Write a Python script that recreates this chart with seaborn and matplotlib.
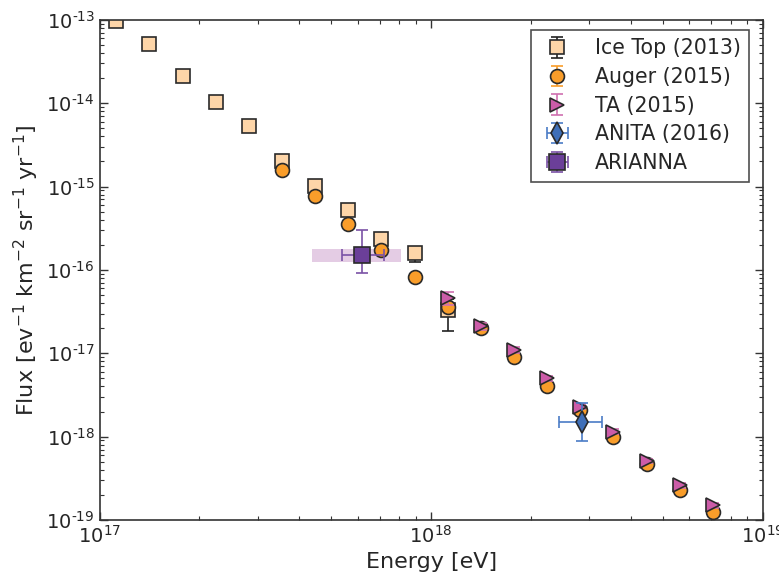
import numpy as np
import matplotlib
matplotlib.use("Agg")
import matplotlib.pyplot as plt
from matplotlib.ticker import FuncFormatter
import seaborn as sns

# log10(E / eV) bin centres
icetop_logE = [17.05, 17.15, 17.25, 17.35, 17.45, 17.55, 17.65, 17.75, 17.85, 17.95, 18.05]
icetop_flux = [9.6e-14, 5.1e-14, 2.1e-14, 1.04e-14, 5.4e-15, 2.0e-15, 1.02e-15, 5.3e-16, 2.35e-16, 1.6e-16, 3.3e-17]
icetop_lo = [0, 0, 0, 0, 0, 0, 0, 0, 0, 3.4e-17, 1.44e-17]
icetop_hi = [0, 0, 0, 0, 0, 0, 0, 0, 0, 1.5e-17, 1.2e-17]

auger_logE = [17.55, 17.65, 17.75, 17.85, 17.95, 18.05, 18.15, 18.25, 18.35, 18.45, 18.55, 18.65, 18.75, 18.85]
auger_flux = [1.58e-15, 7.7e-16, 3.6e-16, 1.74e-16, 8.3e-17, 3.6e-17, 2.0e-17, 9.1e-18, 4.1e-18, 2.1e-18, 1.0e-18, 4.7e-19, 2.3e-19, 1.25e-19]

ta_logE = [18.05, 18.15, 18.25, 18.35, 18.45, 18.55, 18.65, 18.75, 18.85]
ta_flux = [4.6e-17, 2.1e-17, 1.1e-17, 5.0e-18, 2.3e-18, 1.15e-18, 5.1e-19, 2.6e-19, 1.5e-19]
ta_err = [8e-18, 2e-18, 8e-19, 3e-19, 1.5e-19, 7e-20, 3e-20, 2e-20, 1e-20]

anita_E = 2.85e18
anita_flux = 1.5e-18
anita_xerr = [[0.42e18], [0.42e18]]
anita_yerr = [[0.61e-18], [1.0e-18]]

arianna_E = 6.2e17
arianna_flux = 1.5e-16
arianna_xerr = [[0.8e17], [1.0e17]]
arianna_yerr = [[0.59e-16], [1.5e-16]]
arianna_band_E = [4.36e17, 8.1e17]
arianna_band_flux = [1.26e-16, 1.8e-16]

sns.set_theme(style="ticks")
plt.rcParams["font.family"] = ["DejaVu Sans"]
plt.rcParams["xtick.direction"] = "in"
plt.rcParams["ytick.direction"] = "in"


def pow10(v, pos):
    e = int(round(np.log10(v)))
    if e < 0:
        return r"$10^{\text{-}%d}$" % (-e)
    return r"$10^{%d}$" % e


fig = plt.figure(figsize=(7.79, 5.83), dpi=100)
ax = fig.add_axes([0.128, 0.108, 0.851, 0.858])

ax.fill_between(arianna_band_E, arianna_band_flux[0], arianna_band_flux[1],
                color="#c58fc4", alpha=0.45, lw=0, zorder=1)

ax.errorbar(10 ** np.array(icetop_logE), icetop_flux, yerr=[icetop_lo, icetop_hi],
            fmt="s", ms=10, mfc="#fdd5a8", mec="#2a2a2a", mew=1.2,
            ecolor="#222222", elinewidth=1.2, capsize=4, label="Ice Top (2013)", zorder=2)
ax.errorbar(10 ** np.array(auger_logE), auger_flux, yerr=np.array(auger_flux) * 0.03,
            fmt="o", ms=10, mfc="#f99d2a", mec="#2a2a2a", mew=1.2,
            ecolor="#f99d2a", elinewidth=1.2, capsize=4, label="Auger (2015)", zorder=3)
ax.errorbar(10 ** np.array(ta_logE), ta_flux, yerr=ta_err,
            fmt=">", ms=10, mfc="#cc5ca8", mec="#2a2a2a", mew=1.2,
            ecolor="#d070b0", elinewidth=1.2, capsize=4, label="TA (2015)", zorder=4)
ax.errorbar([anita_E], [anita_flux], xerr=anita_xerr, yerr=anita_yerr,
            fmt="d", ms=11, mfc="#3f6fb8", mec="#2a2a2a", mew=1.2,
            ecolor="#4a7cc6", elinewidth=1.2, capsize=4, label="ANITA (2016)", zorder=5)
ax.errorbar([arianna_E], [arianna_flux], xerr=arianna_xerr, yerr=arianna_yerr,
            fmt="s", ms=11, mfc="#6b3f99", mec="#2a2a2a", mew=1.2,
            ecolor="#7a52a6", elinewidth=1.2, capsize=4, label="ARIANNA", zorder=5)

ax.set_xscale("log")
ax.set_yscale("log")
ax.set_xlim(1e17, 1e19)
ax.set_ylim(1e-19, 1e-13)
ax.yaxis.set_major_formatter(FuncFormatter(pow10))
ax.set_xlabel("Energy [eV]", fontsize=16)
ax.set_ylabel(r"Flux [ev$^{-1}$ km$^{-2}$ sr$^{-1}$ yr$^{-1}$]", fontsize=16)
ax.tick_params(which="both", top=True, right=True, labelsize=14, color="#333333")
ax.tick_params(which="major", length=6, width=1)
ax.tick_params(which="minor", length=3, width=0.8)
for s in ax.spines.values():
    s.set_color("#333333")
    s.set_linewidth(1.2)

leg = ax.legend(loc="upper right", fontsize=14.8, frameon=True, fancybox=False,
                borderpad=0.42, handlelength=1.75, handletextpad=0.95, labelspacing=0.42,
                borderaxespad=0, bbox_to_anchor=(0.98, 0.98))
leg.get_frame().set_edgecolor("#222222")
leg.get_frame().set_linewidth(1.2)

fig.savefig("out.png", dpi=100)
